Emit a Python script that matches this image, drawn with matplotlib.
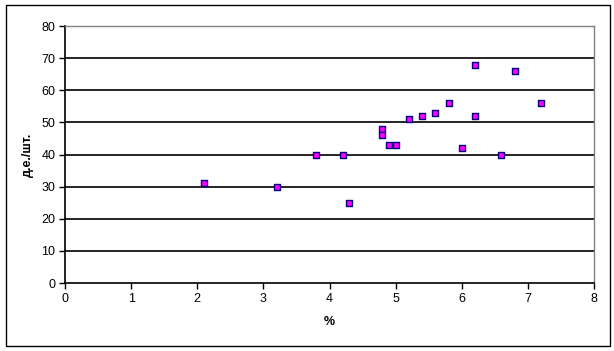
import matplotlib.pyplot as plt
from matplotlib.patches import Rectangle

# data
pct = [2.1, 3.2, 3.8, 4.2, 4.3, 4.8, 4.8, 4.9, 5.0, 5.2, 5.4, 5.6, 5.8, 6.0, 6.2, 6.2, 6.6, 6.8, 7.2]
price = [31, 30, 40, 40, 25, 48, 46, 43, 43, 51, 52, 53, 56, 42, 68, 52, 40, 66, 56]

x_ticks = [0, 1, 2, 3, 4, 5, 6, 7, 8]
y_ticks = [0, 10, 20, 30, 40, 50, 60, 70, 80]

plt.rcParams['font.family'] = ['Liberation Sans', 'DejaVu Sans']

fig = plt.figure(figsize=(6.14, 3.51), dpi=100)
ax = fig.add_axes([0.1059, 0.1937, 0.8615, 0.7322])

for y in y_ticks[1:]:
    ax.axhline(y, color='black', lw=1.2, zorder=1)

ax.scatter(pct, price, marker='s', s=20, facecolor='#ff00ff',
           edgecolor='#000080', linewidths=1.0, zorder=3, clip_on=False)

ax.set_xlim(0, 8)
ax.set_ylim(0, 80)
ax.set_xticks(x_ticks)
ax.set_yticks(y_ticks)
ax.tick_params(direction='out', length=4, width=1, labelsize=9, pad=3)

for s in ['left', 'bottom']:
    ax.spines[s].set_color('black')
    ax.spines[s].set_linewidth(1.2)
for s in ['right', 'top']:
    ax.spines[s].set_color('#808080')
    ax.spines[s].set_linewidth(1.0)

ax.set_xlabel('%', fontsize=9, fontweight='bold', labelpad=8)
ax.set_ylabel('д.е./шт.', fontsize=9, fontweight='bold', labelpad=5)

fig.patches.append(Rectangle((0.009, 0.0143), 0.984, 0.9724, transform=fig.transFigure,
                             fill=False, edgecolor='black', lw=1.0))

fig.savefig('out.png', dpi=100)
